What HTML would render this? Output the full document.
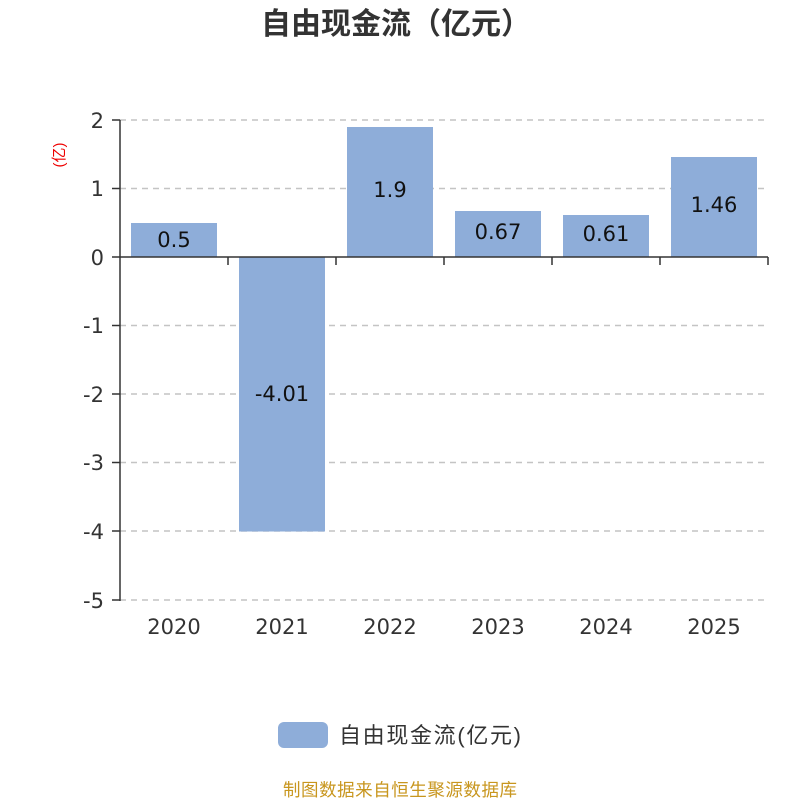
<!DOCTYPE html>
<html><head><meta charset="utf-8"><style>body{margin:0;background:#fff}svg{display:block}</style></head><body>
<svg width="800" height="800" xmlns="http://www.w3.org/2000/svg" font-family="Liberation Sans, Noto Sans CJK SC, sans-serif">
<rect width="800" height="800" fill="#fff"/>
<text x="396" y="34" text-anchor="middle" font-size="30" font-weight="bold" fill="#333">自由现金流（亿元）</text>
<text transform="translate(64,155) rotate(-90)" text-anchor="middle" font-size="15" fill="#e00">(亿)</text>
<g stroke="#c4c4c4" stroke-width="1.5" stroke-dasharray="6,5">
<line x1="120" x2="768" y1="120" y2="120"/><line x1="120" x2="768" y1="188.5" y2="188.5"/>
<line x1="120" x2="768" y1="325.5" y2="325.5"/><line x1="120" x2="768" y1="394" y2="394"/>
<line x1="120" x2="768" y1="462.5" y2="462.5"/><line x1="120" x2="768" y1="531" y2="531"/>
<line x1="120" x2="768" y1="600" y2="600"/>
</g>
<g fill="#8eadd9">
<rect x="131" y="223" width="86" height="34"/>
<rect x="239" y="257" width="86" height="274.5"/>
<rect x="347" y="127" width="86" height="130"/>
<rect x="455" y="211" width="86" height="46"/>
<rect x="563" y="215" width="86" height="42"/>
<rect x="671" y="157" width="86" height="100"/>
</g>
<g stroke="#333" stroke-width="1.5">
<line x1="120" y1="120" x2="120" y2="601"/>
<line x1="120" y1="257" x2="768" y2="257"/>
<line x1="112" x2="120" y1="120" y2="120"/><line x1="112" x2="120" y1="188.5" y2="188.5"/>
<line x1="112" x2="120" y1="257" y2="257"/><line x1="112" x2="120" y1="325.5" y2="325.5"/>
<line x1="112" x2="120" y1="394" y2="394"/><line x1="112" x2="120" y1="462.5" y2="462.5"/>
<line x1="112" x2="120" y1="531" y2="531"/><line x1="112" x2="120" y1="600" y2="600"/>
<line x1="228" x2="228" y1="257" y2="265"/><line x1="336" x2="336" y1="257" y2="265"/>
<line x1="444" x2="444" y1="257" y2="265"/><line x1="552" x2="552" y1="257" y2="265"/>
<line x1="660" x2="660" y1="257" y2="265"/><line x1="768" x2="768" y1="257" y2="265"/>
</g>
<g font-family="DejaVu Sans, sans-serif" font-size="21" fill="#333" text-anchor="end">
<text x="104" y="128">2</text><text x="104" y="196">1</text><text x="104" y="265">0</text>
<text x="104" y="333">-1</text><text x="104" y="402">-2</text><text x="104" y="470">-3</text>
<text x="104" y="539">-4</text><text x="104" y="608">-5</text>
</g>
<g font-family="DejaVu Sans, sans-serif" font-size="21" fill="#333" text-anchor="middle">
<text x="174" y="634">2020</text><text x="282" y="634">2021</text><text x="390" y="634">2022</text>
<text x="498" y="634">2023</text><text x="606" y="634">2024</text><text x="714" y="634">2025</text>
</g>
<g font-family="DejaVu Sans, sans-serif" font-size="21" fill="#111" text-anchor="middle">
<text x="174" y="247">0.5</text><text x="282" y="401">-4.01</text><text x="390" y="197">1.9</text>
<text x="498" y="239">0.67</text><text x="606" y="241">0.61</text><text x="714" y="212">1.46</text>
</g>
<rect x="278" y="722" width="50" height="26" rx="6" fill="#8eadd9"/>
<text x="339" y="743" font-size="22" fill="#333" textLength="182">自由现金流(亿元)</text>
<text x="400" y="796" text-anchor="middle" font-size="17.5" fill="#c8961e" textLength="234">制图数据来自恒生聚源数据库</text>
</svg>
</body></html>
